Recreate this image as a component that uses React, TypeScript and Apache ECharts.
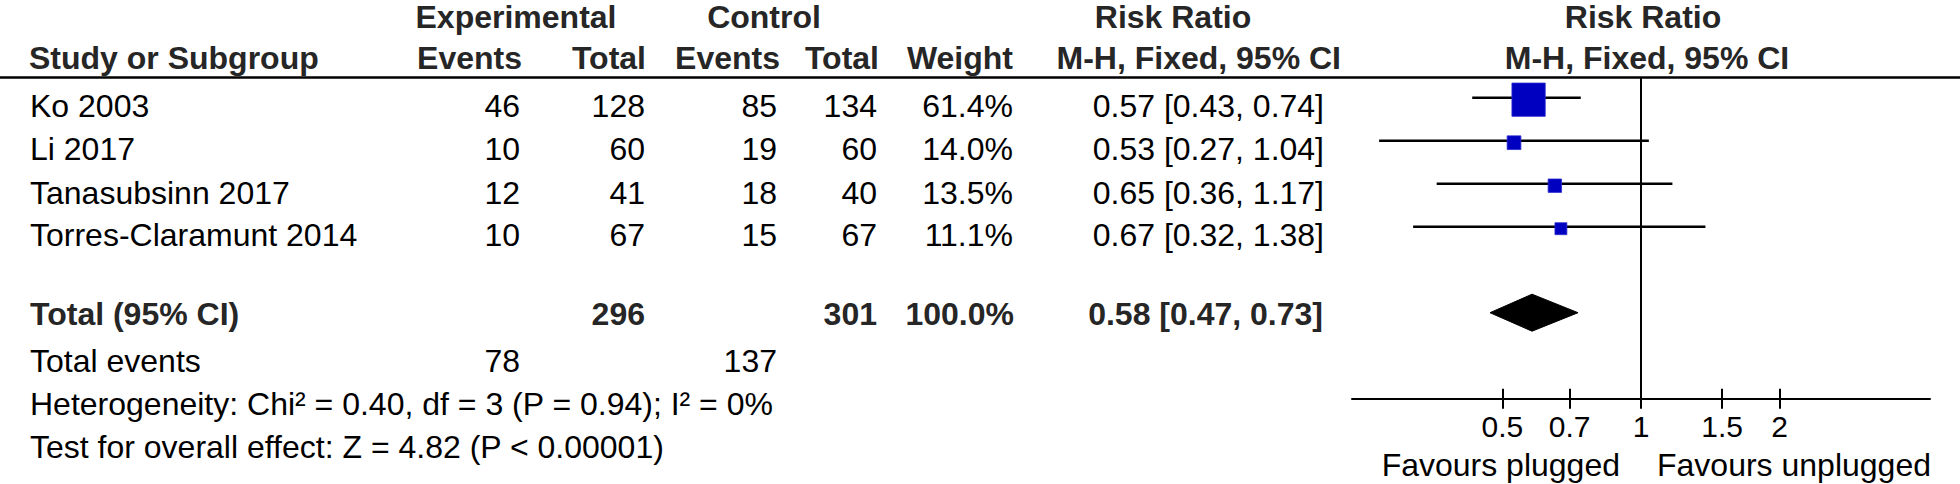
import React, { useEffect, useRef } from "react";
import * as echarts from "echarts";

// ---------------- data ----------------
const studies = ["Ko 2003", "Li 2017", "Tanasubsinn 2017", "Torres-Claramunt 2014"];
const expEvents = [46, 10, 12, 10];
const expTotal = [128, 60, 41, 67];
const ctrlEvents = [85, 19, 18, 15];
const ctrlTotal = [134, 60, 40, 67];
const weights = [61.4, 14.0, 13.5, 11.1];
const riskRatio = [0.57, 0.53, 0.65, 0.67];
const ciLow = [0.43, 0.27, 0.36, 0.32];
const ciHigh = [0.74, 1.04, 1.17, 1.38];

const totalLabel = "Total (95% CI)";
const totalExpN = 296;
const totalCtrlN = 301;
const totalWeight = 100.0;
const totalRR = 0.58;
const totalLow = 0.47;
const totalHigh = 0.73;
const totalExpEvents = 78;
const totalCtrlEvents = 137;
const heterogeneityText = "Heterogeneity: Chi\u00B2 = 0.40, df = 3 (P = 0.94); I\u00B2 = 0%";
const overallEffectText = "Test for overall effect: Z = 4.82 (P < 0.00001)";

const axisTickValues = [0.5, 0.7, 1, 1.5, 2];
const favoursLeft = "Favours plugged";
const favoursRight = "Favours unplugged";

// ---------------- layout ----------------
const FONT = "'Liberation Sans', Arial, sans-serif";
const W = 1960;
const H = 484;
const GRID_LEFT = 1352;
const GRID_WIDTH = 578;
const GRID_TOP = 76.2;
const GRID_HEIGHT = 322.5;
const X_MIN = -1.445;
const X_MAX = 1.445;
const Y_MIN = -0.5;
const Y_MAX = 7;
const TOTAL_ROW = 5;
const CENTER_X = GRID_LEFT + ((0 - X_MIN) / (X_MAX - X_MIN)) * GRID_WIDTH;

const ROW_TEXT_Y = [106, 149, 192.5, 235];
const TOTAL_TEXT_Y = 314;
const EVENTS_TEXT_Y = 361;
const HET_TEXT_Y = 404;
const TEST_TEXT_Y = 447;
const HEAD_A_Y = 17;
const HEAD_B_Y = 57.5;
const FAVOURS_Y = 465;

const fmt2 = (v: number) => v.toFixed(2);
const rrText = (r: number, l: number, h: number) => `${fmt2(r)} [${fmt2(l)}, ${fmt2(h)}]`;

function txt(text: string, x: number, y: number, align: string, bold = false, size = 32, lineHeight?: number) {
  const style: any = {
    text,
    fill: bold ? "#262626" : "#000000",
    fontSize: size,
    fontFamily: FONT,
    fontWeight: bold ? "bold" : "normal",
    align,
    verticalAlign: "middle",
  };
  if (lineHeight) style.lineHeight = lineHeight;
  return { type: "text", x, y, silent: true, style };
}

export default function App() {
  const ref = useRef<HTMLDivElement>(null);

  useEffect(() => {
    if (!ref.current) return;
    const chart = echarts.init(ref.current, null, { renderer: "svg", width: W, height: H });

    const maxW = Math.max(...weights);
    const markData: number[][] = studies.map((_, i) => [
      Math.log(riskRatio[i]),
      Math.log(ciLow[i]),
      Math.log(ciHigh[i]),
      i,
      weights[i],
      0,
    ]);
    markData.push([Math.log(totalRR), Math.log(totalLow), Math.log(totalHigh), TOTAL_ROW, totalWeight, 1]);

    const tickLn = axisTickValues.map((v) => Math.log(v));
    const tickFmt = (v: number) => String(parseFloat(Math.exp(v).toFixed(2)));

    const graphics: any[] = [];
    graphics.push({
      type: "line",
      silent: true,
      shape: { x1: 0, y1: 77.5, x2: W, y2: 77.5 },
      style: { stroke: "#000", lineWidth: 2.5 },
    });
    // headers
    graphics.push(txt("Experimental", 516, HEAD_A_Y, "center", true, 32, 32));
    graphics.push(txt("Control", 764, HEAD_A_Y, "center", true, 32, 32));
    graphics.push(txt("Risk Ratio", 1173, HEAD_A_Y, "center", true, 32, 32));
    graphics.push(txt("Risk Ratio", 1643, HEAD_A_Y, "center", true, 32, 32));
    graphics.push(txt("Study or Subgroup", 29, HEAD_B_Y, "left", true));
    graphics.push(txt("Events", 522, HEAD_B_Y, "right", true));
    graphics.push(txt("Total", 646, HEAD_B_Y, "right", true));
    graphics.push(txt("Events", 780, HEAD_B_Y, "right", true));
    graphics.push(txt("Total", 879, HEAD_B_Y, "right", true));
    graphics.push(txt("Weight", 1013, HEAD_B_Y, "right", true));
    graphics.push(txt("M-H, Fixed, 95% CI", 1341, HEAD_B_Y, "right", true));
    graphics.push(txt("M-H, Fixed, 95% CI", 1647, HEAD_B_Y, "center", true));
    // study rows
    studies.forEach((s, i) => {
      const y = ROW_TEXT_Y[i];
      graphics.push(txt(s, 30, y, "left"));
      graphics.push(txt(String(expEvents[i]), 520, y, "right"));
      graphics.push(txt(String(expTotal[i]), 645, y, "right"));
      graphics.push(txt(String(ctrlEvents[i]), 777, y, "right"));
      graphics.push(txt(String(ctrlTotal[i]), 877, y, "right"));
      graphics.push(txt(weights[i].toFixed(1) + "%", 1013, y, "right"));
      graphics.push(txt(rrText(riskRatio[i], ciLow[i], ciHigh[i]), 1324, y, "right"));
    });
    // total row
    graphics.push(txt(totalLabel, 30, TOTAL_TEXT_Y, "left", true));
    graphics.push(txt(String(totalExpN), 645, TOTAL_TEXT_Y, "right", true));
    graphics.push(txt(String(totalCtrlN), 877, TOTAL_TEXT_Y, "right", true));
    graphics.push(txt(totalWeight.toFixed(1) + "%", 1014, TOTAL_TEXT_Y, "right", true));
    graphics.push(txt(rrText(totalRR, totalLow, totalHigh), 1323, TOTAL_TEXT_Y, "right", true));
    // footer
    graphics.push(txt("Total events", 30, EVENTS_TEXT_Y, "left"));
    graphics.push(txt(String(totalExpEvents), 520, EVENTS_TEXT_Y, "right"));
    graphics.push(txt(String(totalCtrlEvents), 777, EVENTS_TEXT_Y, "right"));
    graphics.push(txt(heterogeneityText, 30, HET_TEXT_Y, "left"));
    graphics.push(txt(overallEffectText, 30, TEST_TEXT_Y, "left"));
    // favours
    graphics.push(txt(favoursLeft, CENTER_X - 21, FAVOURS_Y, "right", false, 32, 36));
    graphics.push(txt(favoursRight, CENTER_X + 16, FAVOURS_Y, "left", false, 32, 36));

    const gridRect = { left: GRID_LEFT, top: GRID_TOP, width: GRID_WIDTH, height: GRID_HEIGHT, containLabel: false };
    const xCommon = {
      type: "value",
      min: X_MIN,
      max: X_MAX,
      position: "bottom",
      splitLine: { show: false },
    };
    const yCommon = {
      type: "value",
      min: Y_MIN,
      max: Y_MAX,
      inverse: true,
      show: false,
      splitLine: { show: false },
    };

    chart.setOption({
      animation: false,
      backgroundColor: "#ffffff",
      grid: [gridRect, { ...gridRect }],
      xAxis: [
        {
          ...xCommon,
          gridIndex: 0,
          axisLine: { show: true, onZero: false, lineStyle: { color: "#000", width: 2 } },
          axisTick: { show: true, inside: false, length: 10, lineStyle: { color: "#000", width: 2 }, customValues: tickLn },
          axisLabel: {
            show: true,
            customValues: tickLn,
            formatter: tickFmt,
            fontSize: 30,
            lineHeight: 30,
            fontFamily: FONT,
            color: "#000",
            margin: 13,
          },
        },
        {
          ...xCommon,
          gridIndex: 1,
          axisLine: { show: false, onZero: false },
          axisTick: { show: true, inside: true, length: 10, lineStyle: { color: "#000", width: 2 }, customValues: tickLn },
          axisLabel: { show: false },
        },
      ],
      yAxis: [
        { ...yCommon, gridIndex: 0 },
        { ...yCommon, gridIndex: 1 },
      ],
      series: [
        {
          type: "line",
          xAxisIndex: 0,
          yAxisIndex: 0,
          data: [
            [Math.log(1), Y_MIN + 0.03],
            [Math.log(1), Y_MAX],
          ],
          symbol: "none",
          silent: true,
          lineStyle: { color: "#000", width: 2 },
          z: 1,
        },
        {
          type: "custom",
          xAxisIndex: 0,
          yAxisIndex: 0,
          clip: false,
          silent: true,
          data: markData,
          z: 3,
          renderItem: (params: any, api: any) => {
            const row = api.value(3);
            const c = api.coord([api.value(0), row]);
            const lo = api.coord([api.value(1), row]);
            const hi = api.coord([api.value(2), row]);
            if (api.value(5) === 1) {
              const hh = 18.5;
              return {
                type: "polygon",
                shape: {
                  points: [
                    [lo[0], c[1]],
                    [c[0], c[1] - hh],
                    [hi[0], c[1]],
                    [c[0], c[1] + hh],
                  ],
                },
                style: { fill: "#000", stroke: "#000", lineWidth: 1 },
              };
            }
            const side = 33.3 * Math.pow(api.value(4) / maxW, 0.6);
            return {
              type: "group",
              children: [
                {
                  type: "line",
                  shape: { x1: lo[0], y1: c[1], x2: hi[0], y2: c[1] },
                  style: { stroke: "#000", lineWidth: 2.6 },
                },
                {
                  type: "rect",
                  shape: { x: c[0] - side / 2, y: c[1] + 2 - side / 2, width: side, height: side },
                  style: { fill: "#0000c0", stroke: "#2a2ad0", lineWidth: 0.8 },
                },
              ],
            };
          },
        },
      ],
      graphic: { elements: graphics },
    });

    return () => chart.dispose();
  }, []);

  return (
    <div
      ref={ref}
      style={{ position: "fixed", left: 0, top: 0, width: W, height: H, background: "#fff" }}
    />
  );
}
